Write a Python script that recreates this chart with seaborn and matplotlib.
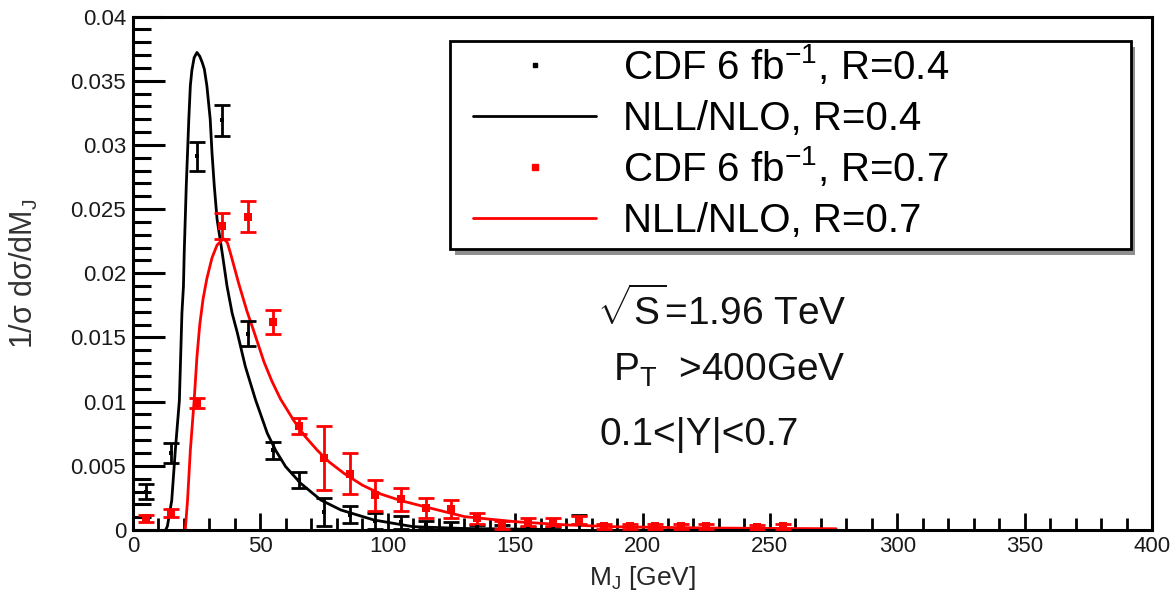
import matplotlib
matplotlib.use("Agg")
import matplotlib.pyplot as plt
from matplotlib.ticker import MultipleLocator, FuncFormatter
from matplotlib.patches import Rectangle
import seaborn as sns

# CDF 6 fb^-1 jet-mass measurement, R = 0.4 (bin centre, 1/sigma dsigma/dM_J, error)
cdf04_mass = [5, 15, 25, 35, 45, 55, 65, 75, 85, 95, 105, 115, 125, 135, 145, 155, 165, 175]
cdf04_val = [0.0030, 0.0060, 0.0291, 0.0319, 0.0153, 0.0062, 0.0039, 0.0014, 0.0012, 0.0007,
             0.0006, 0.0004, 0.0003, 0.0002, 0.0002, 0.0001, 0.0001, 0.0006]
cdf04_err = [0.0006, 0.0008, 0.0011, 0.0012, 0.0010, 0.00065, 0.0006, 0.0011, 0.00065, 0.0006,
             0.0005, 0.0003, 0.0003, 0.0002, 0.0002, 0.0001, 0.0001, 0.0006]

# CDF 6 fb^-1 jet-mass measurement, R = 0.7
cdf07_mass = [5, 15, 25, 35, 45, 55, 65, 75, 85, 95, 105, 115, 125, 135, 145, 155, 165, 175,
              185, 195, 205, 215, 225, 245, 255]
cdf07_val = [0.0009, 0.0013, 0.0099, 0.0237, 0.0244, 0.0162, 0.0081, 0.0056, 0.0044, 0.0027,
             0.0024, 0.0017, 0.0016, 0.0009, 0.0004, 0.00065, 0.00065, 0.0008,
             0.0003, 0.0003, 0.0003, 0.0003, 0.0003, 0.0002, 0.0003]
cdf07_err = [0.0003, 0.0003, 0.0004, 0.0010, 0.0012, 0.0009, 0.00065, 0.0025, 0.0016, 0.0012,
             0.0009, 0.0008, 0.0007, 0.0004, 0.0003, 0.0003, 0.0003, 0.0003,
             0.0002, 0.0002, 0.0002, 0.0002, 0.0002, 0.0002, 0.0002]

# NLL/NLO prediction, R = 0.4
nll04_mass = [12.8, 13.5, 15.2, 16.6, 18.2, 19.2, 19.8, 20.1, 20.5, 20.9, 21.4, 21.9, 22.5,
              23.1, 24.0, 25.1, 26.2, 27.2, 28.0, 29.0, 30.3, 31.0, 31.9, 33.0, 35.0, 36.9,
              38.9, 40.9, 44.1, 48.1, 52.7, 56.0, 59.9, 65.8, 73.7, 81.6, 94.6, 110, 130, 165]
nll04_val = [0.0, 0.0003, 0.0023, 0.0062, 0.0101, 0.0169, 0.0190, 0.0216, 0.0242, 0.0268,
             0.0294, 0.0320, 0.0346, 0.0358, 0.0368, 0.0372, 0.0369, 0.0364, 0.0359, 0.0346,
             0.0320, 0.0294, 0.0268, 0.0242, 0.0216, 0.0190, 0.0169, 0.0154, 0.01273, 0.01014,
             0.00754, 0.0062, 0.00494, 0.00364, 0.00234, 0.00156, 0.00078, 0.00026, 0.00012,
             0.00004]

# NLL/NLO prediction, R = 0.7
nll07_mass = [20.5, 21.4, 22.5, 24.0, 25.1, 26.2, 27.5, 29.0, 31.0, 33.0, 35.5, 37.0, 38.2,
              41.5, 44.8, 47.4, 51.4, 54.5, 57.9, 63.2, 67.5, 72.4, 77.0, 82.9, 90.0, 97.3,
              105.0, 114.4, 130.2, 150, 170, 190, 230, 276]
nll07_val = [0.0, 0.0023, 0.0062, 0.0101, 0.0135, 0.0160, 0.0180, 0.0196, 0.0212, 0.0222,
             0.0227, 0.0224, 0.0216, 0.0192, 0.0170, 0.0155, 0.0131, 0.0116, 0.0102, 0.0085,
             0.0073, 0.0062, 0.0053, 0.0044, 0.0035, 0.0028, 0.0023, 0.00182, 0.00104,
             0.00065, 0.0004, 0.00025, 0.00015, 0.0001]

legend_labels = [r"CDF 6 fb$^{-1}$, R=0.4", "NLL/NLO, R=0.4",
                 r"CDF 6 fb$^{-1}$, R=0.7", "NLL/NLO, R=0.7"]
cut_labels = [r"$\sqrt{\mathrm{S}}$=1.96 TeV", r"P$_{\mathrm{T}}$  >400GeV", "0.1<|Y|<0.7"]

sns.set_theme(style="white")
plt.rcParams["font.family"] = ["Liberation Sans", "DejaVu Sans"]
plt.rcParams["mathtext.fontset"] = "custom"
plt.rcParams["mathtext.rm"] = "Liberation Sans"
plt.rcParams["mathtext.it"] = "Liberation Sans:italic"
plt.rcParams["mathtext.bf"] = "Liberation Sans:bold"
plt.rcParams["mathtext.sf"] = "Liberation Sans"

fig = plt.figure(figsize=(11.74, 5.94), dpi=100)
ax = fig.add_axes([0.1133, 0.1077, 0.868, 0.8645])

RED = "#ff0000"
BLACK = "#000000"

# theory curves
sns.lineplot(x=nll04_mass, y=nll04_val, ax=ax, color=BLACK, lw=2.0, sort=False,
             estimator=None, zorder=2)
sns.lineplot(x=nll07_mass, y=nll07_val, ax=ax, color=RED, lw=2.0, sort=False,
             estimator=None, zorder=2)

# measurements with error bars
ax.errorbar(cdf04_mass, cdf04_val, yerr=cdf04_err, fmt="none", ecolor=BLACK,
            elinewidth=2.0, capsize=6.0, capthick=2.0, zorder=3)
sns.scatterplot(x=cdf04_mass, y=cdf04_val, ax=ax, color=BLACK, marker="s", s=5,
                linewidth=0, zorder=4)
ax.errorbar(cdf07_mass, cdf07_val, yerr=cdf07_err, fmt="none", ecolor=RED,
            elinewidth=2.0, capsize=6.0, capthick=2.0, zorder=3)
sns.scatterplot(x=cdf07_mass, y=cdf07_val, ax=ax, color=RED, marker="s", s=32,
                linewidth=0, zorder=4)

ax.set_xlim(0, 400)
ax.set_ylim(0, 0.04)

# axis frame and ticks
for sp in ax.spines.values():
    sp.set_visible(True)
    sp.set_color(BLACK)
    sp.set_linewidth(2.2)
ax.xaxis.set_major_locator(MultipleLocator(50))
ax.xaxis.set_minor_locator(MultipleLocator(10))
ax.yaxis.set_major_locator(MultipleLocator(0.005))
ax.yaxis.set_minor_locator(MultipleLocator(0.001))
ax.yaxis.set_major_formatter(FuncFormatter(lambda v, p: f"{v:g}"))
ax.xaxis.set_major_formatter(FuncFormatter(lambda v, p: f"{v:g}"))
ax.tick_params(axis="both", which="both", direction="in", colors=BLACK,
               top=False, right=False, bottom=True, left=True)
ax.tick_params(axis="y", which="major", length=23, width=2.2, pad=5, labelsize=16,
               labelcolor="#1a1a1a")
ax.tick_params(axis="y", which="minor", length=13, width=2.2)
ax.tick_params(axis="x", which="major", length=12, width=2.0, pad=4, labelsize=16,
               labelcolor="#1a1a1a")
ax.tick_params(axis="x", which="minor", length=8.5, width=2.0)
ax.grid(False)

ax.set_xlabel(r"M$_{\mathrm{J}}$ [GeV]", fontsize=19, labelpad=5)
ax.set_ylabel(r"1/σ dσ/dM$_{\mathrm{J}}$", fontsize=22, labelpad=22, color="#333333")

# legend box with drop shadow
lx0, lx1, ly0, ly1 = 0.311, 0.979, 0.547, 0.952
ax.add_patch(Rectangle((lx0 + 0.0045, ly0 - 0.011), lx1 - lx0, ly1 - ly0,
                       transform=ax.transAxes, facecolor="#8f8f8f", edgecolor="none",
                       zorder=5, clip_on=False))
ax.add_patch(Rectangle((lx0, ly0), lx1 - lx0, ly1 - ly0, transform=ax.transAxes,
                       facecolor="white", edgecolor=BLACK, linewidth=2.0, zorder=6,
                       clip_on=False))
row_mid = [0.9056, 0.8062, 0.7069, 0.6076]
row_base = [0.8783, 0.7790, 0.6797, 0.5803]
h_x0, h_x1, h_mid, txt_x = 0.3337, 0.4544, 0.3945, 0.4809
ax.plot([h_mid], [row_mid[0]], transform=ax.transAxes, marker="s", ms=2.5,
        color=BLACK, ls="none", zorder=7, clip_on=False)
ax.plot([h_x0, h_x1], [row_mid[1]] * 2, transform=ax.transAxes, color=BLACK, lw=2.0,
        zorder=7, clip_on=False)
ax.plot([h_mid], [row_mid[2]], transform=ax.transAxes, marker="s", ms=5,
        color=RED, ls="none", zorder=7, clip_on=False)
ax.plot([h_x0, h_x1], [row_mid[3]] * 2, transform=ax.transAxes, color=RED, lw=2.0,
        zorder=7, clip_on=False)
for lab, yb in zip(legend_labels, row_base):
    ax.text(txt_x, yb, lab, transform=ax.transAxes, fontsize=29, ha="left",
            va="baseline", color=BLACK, zorder=8)

# kinematic cuts
cut_pos = [(0.455, 0.399), (0.471, 0.290), (0.458, 0.166)]
for lab, (tx, ty) in zip(cut_labels, cut_pos):
    ax.text(tx, ty, lab, transform=ax.transAxes, fontsize=28, ha="left",
            va="baseline", color="#111111", zorder=8)

fig.savefig("out.png", dpi=100, facecolor="white")
